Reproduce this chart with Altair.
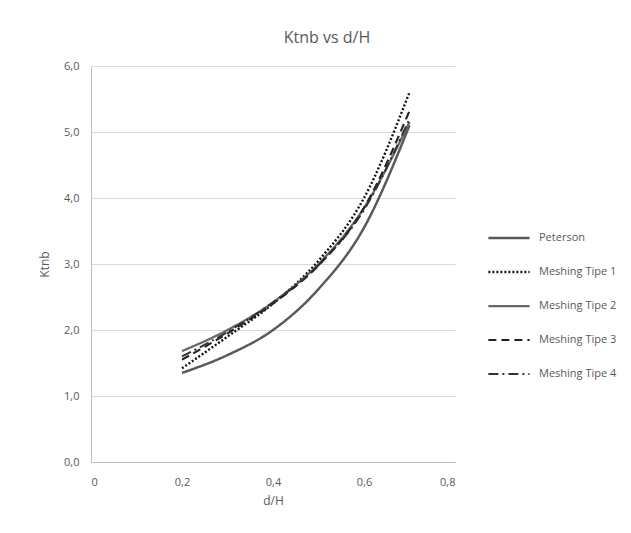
import altair as alt
import pandas as pd

dH = [0.2, 0.3, 0.4, 0.5, 0.6, 0.7]
series_names = ["Peterson", "Meshing Tipe 1", "Meshing Tipe 2", "Meshing Tipe 3", "Meshing Tipe 4"]
peterson = [1.35, 1.62, 2.0, 2.62, 3.55, 5.1]
mesh1 = [1.42, 1.9, 2.4, 3.05, 4.0, 5.6]
mesh2 = [1.68, 2.0, 2.42, 3.0, 3.85, 5.15]
mesh3 = [1.55, 1.95, 2.4, 2.98, 3.85, 5.32]
mesh4 = [1.6, 1.97, 2.42, 2.98, 3.82, 5.2]

x_ticks = [0, 0.2, 0.4, 0.6, 0.8]
y_ticks = [0, 1, 2, 3, 4, 5, 6]

rows = []
for name, vals in zip(series_names, [peterson, mesh1, mesh2, mesh3, mesh4]):
    for x, v in zip(dH, vals):
        rows.append({"series": name, "dH": x, "Ktnb": v})
df = pd.DataFrame(rows)

grey = "#595959"
font = "Open Sans"


def make_legend():
    return alt.Legend(title=None, orient="none", legendX=396, legendY=150,
                      symbolType="stroke", symbolSize=1700,
                      labelFont=font, labelFontSize=11, labelColor=grey,
                      rowPadding=7, labelOffset=8)


chart = alt.Chart(df).mark_line(interpolate="monotone").encode(
    x=alt.X("dH:Q", title="d/H",
            scale=alt.Scale(domain=[0, 0.8], nice=False, zero=True),
            axis=alt.Axis(values=x_ticks, grid=True, gridColor="#bfbfbf",
                          gridOpacity=alt.ExprRef("datum.value == 0 ? 1 : 0"),
                          ticks=False,
                          domainColor="#bfbfbf", labelColor=grey, titleColor=grey,
                          labelFont=font, titleFont=font, labelFontSize=11,
                          titleFontSize=12, titleFontWeight="normal",
                          labelPadding=14, titlePadding=8,
                          labelExpr="datum.value == 0 ? '0' : replace(format(datum.value, '.1f'), '.', ',')")),
    y=alt.Y("Ktnb:Q", title="Ktnb",
            scale=alt.Scale(domain=[0, 6], nice=False),
            axis=alt.Axis(values=y_ticks, grid=True, gridColor="#d9d9d9", ticks=False,
                          domain=False, labelColor=grey, titleColor=grey,
                          labelFont=font, titleFont=font, labelFontSize=11,
                          titleFontSize=12, titleFontWeight="normal",
                          labelPadding=12, titlePadding=12,
                          labelExpr="replace(format(datum.value, '.1f'), '.', ',')")),
    color=alt.Color("series:N", sort=series_names,
                    scale=alt.Scale(domain=series_names,
                                    range=["#595959", "#111111", "#666666", "#222222", "#333333"]),
                    legend=make_legend()),
    strokeDash=alt.StrokeDash("series:N", sort=series_names,
                              scale=alt.Scale(domain=series_names,
                                              range=[[1, 0], [2, 2], [1, 0], [8, 5], [10, 4, 2, 4]]),
                              legend=make_legend()),
    strokeWidth=alt.StrokeWidth("series:N", sort=series_names,
                                scale=alt.Scale(domain=series_names, range=[2.5, 2, 1, 2.5, 2]),
                                legend=make_legend()),
).properties(
    width=364, height=396,
    title=alt.TitleParams("Ktnb vs d/H", font=font, fontSize=16, fontWeight="normal",
                          color=grey, anchor="middle", dx=54, offset=14),
    padding={"left": 83, "top": 58, "right": 168, "bottom": 63},
    autosize=alt.AutoSizeParams(type="none"),
    background="white",
).configure_view(stroke="transparent", strokeWidth=0)

chart.save("out.html", embed_options={"renderer": "svg", "actions": False})
